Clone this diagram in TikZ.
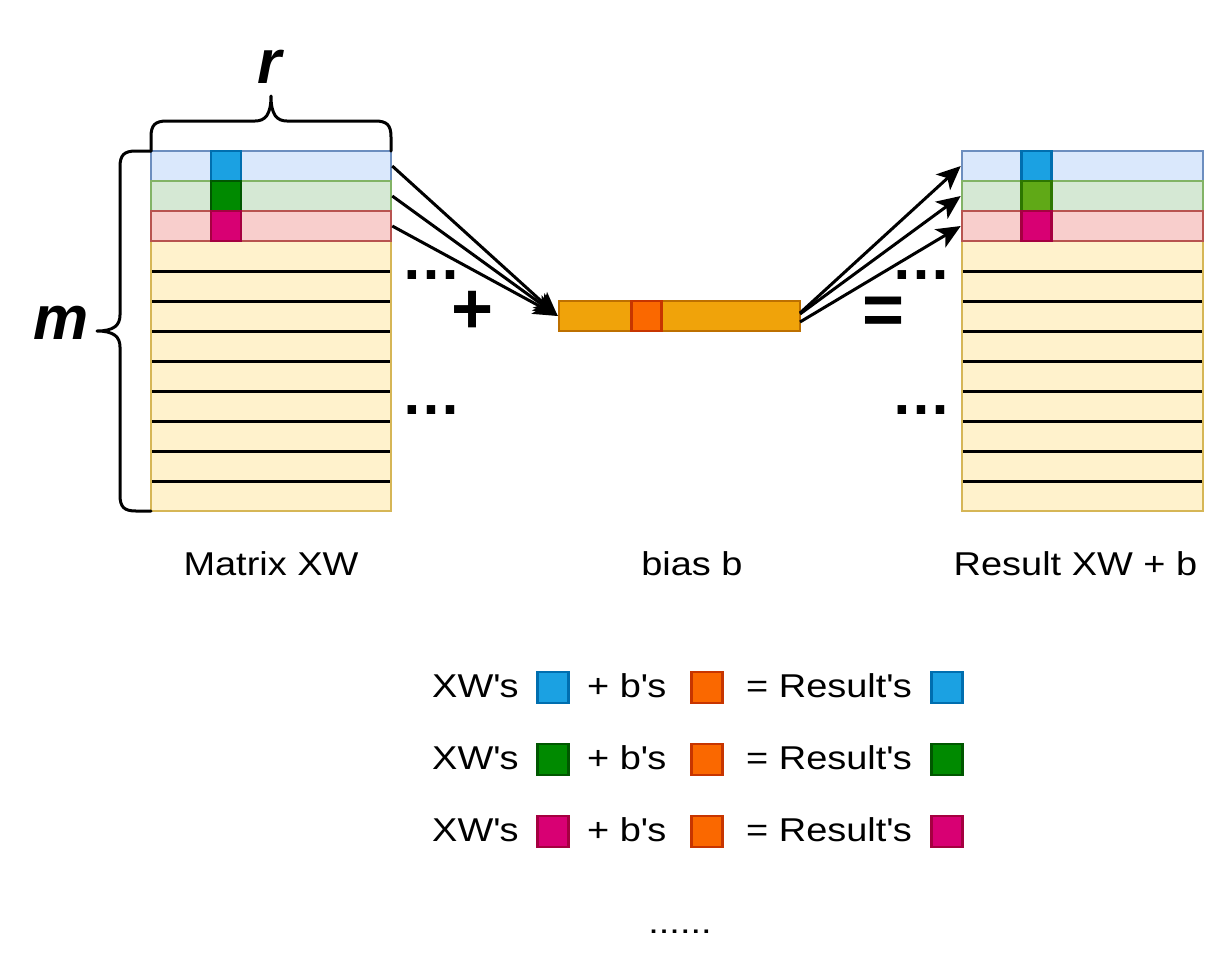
\documentclass[tikz,border=0pt]{standalone}
\usepackage{fontspec}
\setmainfont{Liberation Sans}
\newfontfamily\lblfont[FakeStretch=1.15]{Liberation Sans}
\usetikzlibrary{arrows.meta}
\definecolor{bluF}{HTML}{DAE8FC}\definecolor{bluD}{HTML}{6C8EBF}
\definecolor{grnF}{HTML}{D5E8D4}\definecolor{grnD}{HTML}{82B366}
\definecolor{redF}{HTML}{F8CECC}\definecolor{redD}{HTML}{B85450}
\definecolor{yelF}{HTML}{FFF2CC}\definecolor{yelD}{HTML}{D6B656}
\definecolor{sqB}{HTML}{1BA1E2}\definecolor{sqBD}{HTML}{006EAF}
\definecolor{sqG}{HTML}{008A00}\definecolor{sqGD}{HTML}{005700}
\definecolor{sqLG}{HTML}{60A917}\definecolor{sqLGD}{HTML}{2D7600}
\definecolor{sqM}{HTML}{D80073}\definecolor{sqMD}{HTML}{A50040}
\definecolor{biasF}{HTML}{F0A30A}\definecolor{biasD}{HTML}{BD7000}
\definecolor{sqO}{HTML}{FA6800}\definecolor{sqOD}{HTML}{C73500}
\begin{document}
\begin{tikzpicture}[x=1pt,y=-1pt,
  cellbox/.style={draw, line width=2.5pt, inner sep=0pt, minimum width=240pt, minimum height=30pt},
  sq/.style={draw, line width=2.5pt, inner sep=0pt, minimum width=30pt, minimum height=30pt},
  gridline/.style={line width=3pt, black},
  brace/.style={line width=3pt, black, line cap=round, line join=round},
  arr/.style={line width=3pt, black, -{Stealth[length=24pt,width=21pt,inset=6pt]}},
  lbl/.style={font=\lblfont\fontsize{33}{40}\selectfont, inner sep=0pt, anchor=base},
  big/.style={font=\fontsize{72}{80}\selectfont\bfseries, inner sep=0pt},
  dots/.style={font=\fontsize{60}{70}\selectfont\bfseries, inner sep=0pt},
  dim/.style={font=\fontsize{62}{70}\selectfont\bfseries\itshape, inner sep=0pt, anchor=base},
]
\useasboundingbox (0,0) rectangle (1218,954);

% ---------- left matrix ----------
\node[cellbox, fill=yelF, draw=yelD, minimum height=270pt] (LY) at (271,376) {};
\foreach \yy in {271,301,331,361,391,421,451,481}
  \draw[gridline] (152,\yy) -- (390,\yy);
\node[cellbox, fill=bluF, draw=bluD] (L1) at (271,166) {};
\node[cellbox, fill=grnF, draw=grnD] (L2) at (271,196) {};
\node[cellbox, fill=redF, draw=redD] (L3) at (271,226) {};
\node[sq, fill=sqB, draw=sqBD] (LS1) at (226,166) {};
\node[sq, fill=sqG, draw=sqGD] (LS2) at (226,196) {};
\node[sq, fill=sqM, draw=sqMD] (LS3) at (226,226) {};

% ---------- right matrix ----------
\node[cellbox, minimum width=241pt, fill=yelF, draw=yelD, minimum height=270pt] (RY) at (1082.5,376) {};
\foreach \yy in {271,301,331,361,391,421,451,481}
  \draw[gridline] (963,\yy) -- (1202,\yy);
\node[cellbox, minimum width=241pt, fill=bluF, draw=bluD] (R1) at (1082.5,166) {};
\node[cellbox, minimum width=241pt, fill=grnF, draw=grnD] (R2) at (1082.5,196) {};
\node[cellbox, minimum width=241pt, fill=redF, draw=redD] (R3) at (1082.5,226) {};
\node[sq, fill=sqB, draw=sqBD] (RS1) at (1036.5,166) {};
\node[sq, fill=sqLG, draw=sqLGD] (RS2) at (1036.5,196) {};
\node[sq, fill=sqM, draw=sqMD] (RS3) at (1036.5,226) {};

% ---------- bias ----------
\node[draw=biasD, fill=biasF, line width=2.5pt, inner sep=0pt, minimum width=241pt, minimum height=30pt] (bias) at (679.5,316) {};
\node[sq, fill=sqO, draw=sqOD] (BS) at (646.5,316) {};

% ---------- braces ----------
\draw[brace] (151,151) -- (151,137) .. controls (151,125) and (155,121) .. (167,121)
  -- (255,121) .. controls (265,121) and (271,115) .. (271,96)
  .. controls (271,115) and (277,121) .. (287,121) -- (375,121)
  .. controls (387,121) and (391,125) .. (391,137) -- (391,151);
\draw[brace] (151,151) -- (136,151) .. controls (124,151) and (120,155) .. (120,167)
  -- (120,315) .. controls (120,325) and (114,331) .. (97,331)
  .. controls (114,331) and (120,337) .. (120,347) -- (120,495)
  .. controls (120,507) and (124,511) .. (136,511) -- (151,511);
\node[dim] (rlab) at (270,83) {r};
\node[dim] (mlab) at (61,339) {m};

% ---------- arrows ----------
\draw[arr] (L1.east) -- (bias.west);
\draw[arr] (L2.east) -- (bias.west);
\draw[arr] (L3.east) -- (bias.west);
\coordinate (bo1) at (800,313);
\coordinate (bo2) at (800,314);
\coordinate (bo3) at (800,322);
\draw[arr] (bo1) -- (R1.west);
\draw[arr] (bo2) -- (R2.west);
\draw[arr] (bo3) -- (R3.west);

% ---------- operators and dots ----------
\node[big] (plus) at (473,312) {+};
\node[big] (eq) at (884,316) {=};
\node[dots] (dl1) at (431,275) {…};
\node[dots] (dl2) at (431,410) {…};
\node[dots] (dr1) at (921,275) {…};
\node[dots] (dr2) at (921,410) {…};

% ---------- labels ----------
\node[lbl] (labL) at (271,575) {Matrix XW};
\node[lbl] (labB) at (692,575) {bias b};
\node[lbl] (labR) at (1075.5,575) {Result XW + b};

% ---------- legend ----------
\node[lbl, anchor=base west] (x1) at (432,697) {XW\textquotesingle s};
\node[sq, minimum width=31pt, minimum height=31pt, fill=sqB, draw=sqBD] (x1s) at (553,687.5) {};
\node[lbl, anchor=base west] (p1) at (587,697) {+ b\textquotesingle s};
\node[sq, minimum width=31pt, minimum height=31pt, fill=sqO, draw=sqOD] (p1s) at (707,687.5) {};
\node[lbl, anchor=base west] (e1) at (746,697) {= Result\textquotesingle s};
\node[sq, minimum width=31pt, minimum height=31pt, fill=sqB, draw=sqBD] (e1s) at (947,687.5) {};

\node[lbl, anchor=base west] (x2) at (432,769) {XW\textquotesingle s};
\node[sq, minimum width=31pt, minimum height=31pt, fill=sqG, draw=sqGD] (x2s) at (553,759.5) {};
\node[lbl, anchor=base west] (p2) at (587,769) {+ b\textquotesingle s};
\node[sq, minimum width=31pt, minimum height=31pt, fill=sqO, draw=sqOD] (p2s) at (707,759.5) {};
\node[lbl, anchor=base west] (e2) at (746,769) {= Result\textquotesingle s};
\node[sq, minimum width=31pt, minimum height=31pt, fill=sqG, draw=sqGD] (e2s) at (947,759.5) {};

\node[lbl, anchor=base west] (x3) at (432,841) {XW\textquotesingle s};
\node[sq, minimum width=31pt, minimum height=31pt, fill=sqM, draw=sqMD] (x3s) at (553,831.5) {};
\node[lbl, anchor=base west] (p3) at (587,841) {+ b\textquotesingle s};
\node[sq, minimum width=31pt, minimum height=31pt, fill=sqO, draw=sqOD] (p3s) at (707,831.5) {};
\node[lbl, anchor=base west] (e3) at (746,841) {= Result\textquotesingle s};
\node[sq, minimum width=31pt, minimum height=31pt, fill=sqM, draw=sqMD] (e3s) at (947,831.5) {};

\node[lbl] (more) at (680,933) {......};
\end{tikzpicture}
\end{document}
